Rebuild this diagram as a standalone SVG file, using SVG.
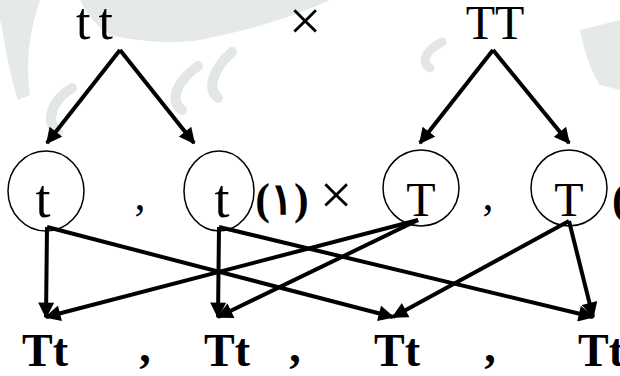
<svg xmlns="http://www.w3.org/2000/svg" width="620" height="376" viewBox="0 0 620 376">
<style>
.bg{fill:#e6eae6;stroke:none}
.bgs{fill:none;stroke:#e3e7e3;stroke-linecap:round}
.s{font-family:"Liberation Serif","Times New Roman",serif;fill:#000}
.b{font-family:"Liberation Serif","Times New Roman",serif;font-weight:bold;fill:#000}
.node{fill:none;stroke:#000;stroke-width:1.5}
.edge{stroke:#000;stroke-width:4;fill:none;marker-end:url(#ah)}
</style>
<defs>
<marker id="ah" viewBox="0 0 10 10" refX="9" refY="5" markerWidth="4.2" markerHeight="4" markerUnits="strokeWidth" orient="auto">
<path d="M0,0 L10,5 L0,10 z" fill="#000"/>
</marker>
</defs>
<rect width="620" height="376" fill="#fff"/>
<g id="watermark">
<path class="bg" d="M0,0 L40,0 C30,30 25,60 30,95 L18,100 C8,70 4,35 0,20 z"/>
<path class="bg" d="M80,0 L330,0 C300,15 250,30 200,40 C170,45 130,40 110,35 C95,25 85,12 80,0 z"/>
<path class="bgs" stroke-width="10" d="M72,88 C52,100 44,122 58,132"/>
<path class="bgs" stroke-width="10" d="M198,66 C178,80 168,100 182,110"/>
<path class="bgs" stroke-width="10" d="M232,52 C214,68 206,88 218,98"/>
<path class="bgs" stroke-width="9" d="M442,42 C426,50 420,62 430,68"/>
<path class="bg" d="M580,30 L620,20 L620,90 L600,85 C590,70 584,50 580,30 z"/>
</g>
<g id="parents">
<text class="s" x="76" y="39" font-size="52" textLength="37" lengthAdjust="spacing">t t</text>
<text class="s" x="305" y="40" font-size="58" text-anchor="middle">×</text>
<text class="s" x="495" y="39" font-size="48" text-anchor="middle">TT</text>
</g>
<g id="g1"><ellipse class="node" cx="46" cy="191" rx="38" ry="40"/><text class="s" x="43" y="217" font-size="54" text-anchor="middle">t</text></g>
<g id="g2"><ellipse class="node" cx="219" cy="191" rx="35" ry="40"/><text class="s" x="222" y="217" font-size="54" text-anchor="middle">t</text></g>
<g id="g3"><ellipse class="node" cx="421" cy="188" rx="38" ry="38"/><text class="s" x="421" y="216" font-size="48" text-anchor="middle">T</text></g>
<g id="g4"><ellipse class="node" cx="569" cy="188" rx="38" ry="38"/><text class="s" x="569" y="216" font-size="48" text-anchor="middle">T</text></g>
<g id="labels">
<text class="s" x="140" y="210" font-size="44" text-anchor="middle">,</text>
<text class="b" x="282" y="214" font-size="44" text-anchor="middle">(١)</text>
<text class="s" x="336" y="214" font-size="58" text-anchor="middle">×</text>
<text class="s" x="488" y="210" font-size="44" text-anchor="middle">,</text>
<text class="b" x="612" y="214" font-size="44">(</text>
</g>
<g id="offspring">
<text class="b" x="45" y="366" font-size="46" text-anchor="middle">Tt</text>
<text class="b" x="145" y="362" font-size="46" text-anchor="middle">,</text>
<text class="b" x="227" y="366" font-size="46" text-anchor="middle">Tt</text>
<text class="b" x="295" y="362" font-size="46" text-anchor="middle">,</text>
<text class="b" x="397" y="366" font-size="46" text-anchor="middle">Tt</text>
<text class="b" x="490" y="362" font-size="46" text-anchor="middle">,</text>
<text class="b" x="601" y="366" font-size="46" text-anchor="middle">Tt</text>
</g>
<g id="connectors">
<path class="edge" d="M120,50 L47,143"/>
<path class="edge" d="M120,50 L194,143"/>
<path class="edge" d="M493,50 L420,143"/>
<path class="edge" d="M493,50 L569,143"/>
<path class="edge" d="M47,227 L46,317"/>
<path class="edge" d="M47,227 L393,317"/>
<path class="edge" d="M219,227 L218,317"/>
<path class="edge" d="M219,227 L593,317"/>
<path class="edge" d="M418,220 L46,317"/>
<path class="edge" d="M418,220 L218,317"/>
<path class="edge" d="M569,221 L393,317"/>
<path class="edge" d="M569,221 L593,317"/>
</g>
</svg>
